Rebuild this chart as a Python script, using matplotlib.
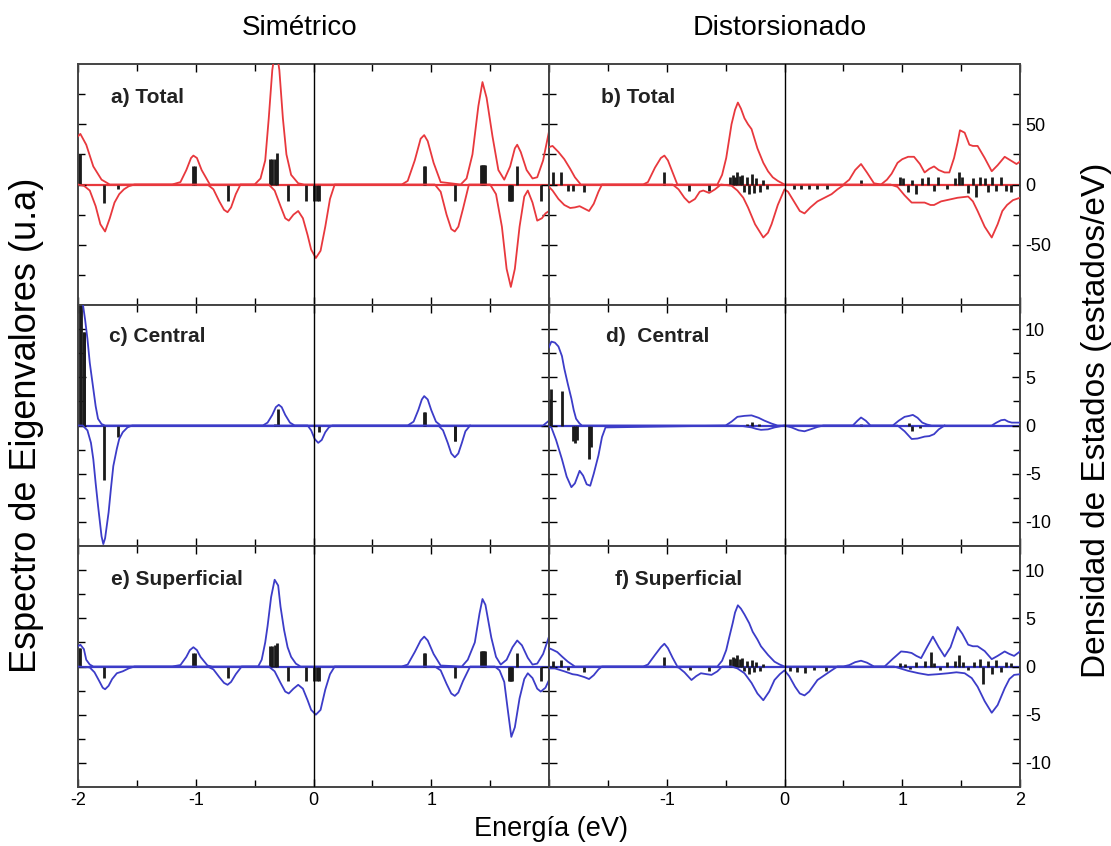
import numpy as np
import matplotlib
matplotlib.use("Agg")
import matplotlib.pyplot as plt
from matplotlib.ticker import MultipleLocator, FixedLocator

plt.rcParams['font.family'] = ['Liberation Sans', 'DejaVu Sans']
plt.rcParams['axes.unicode_minus'] = False

# ---------------- datos ----------------
# a) Total - simetrico
a_up_x = [-2.0, -1.98, -1.93, -1.87, -1.80, -1.73, -1.2, -1.13, -1.08, -1.04, -1.02, -0.99, -0.95, -0.88,
          -0.5, -0.45, -0.41, -0.38, -0.35, -0.32, -0.29, -0.26, -0.23, -0.19, -0.13, -0.08,
          0.75, 0.80, 0.86, 0.91, 0.94, 0.97, 1.02, 1.08, 1.25, 1.30, 1.35, 1.40, 1.435, 1.47, 1.52, 1.57,
          1.62, 1.67, 1.71, 1.73, 1.76, 1.81, 1.86, 1.90, 1.95, 2.0]
a_up_y = [40, 42, 33, 15, 4, 0, 0, 2, 12, 22, 24, 22, 12, 0,
          0, 5, 20, 55, 95, 115, 95, 55, 25, 8, 1, 0,
          0, 3, 20, 38, 41, 36, 18, 2, 0, 5, 25, 65, 85, 72, 40, 12,
          4, 15, 30, 33, 27, 12, 5, 6, 20, 44]
a_dn_x = [-2.0, -1.95, -1.90, -1.85, -1.81, -1.77, -1.73, -1.69, -1.65, -1.61, -1.57, -1.52,
          -0.9, -0.85, -0.80, -0.76, -0.73, -0.70, -0.66, -0.62,
          -0.38, -0.33, -0.28, -0.24, -0.21, -0.17, -0.13, -0.09, -0.05, -0.02, 0.02, 0.06, 0.10, 0.14, 0.18,
          1.03, 1.08, 1.13, 1.17, 1.20, 1.23, 1.27, 1.32,
          1.50, 1.55, 1.60, 1.64, 1.676, 1.71, 1.75, 1.79, 1.82, 1.86, 1.90, 1.94, 1.97, 2.0]
a_dn_y = [0, -1, -5, -18, -33, -39, -28, -15, -8, -4, -1.5, 0,
          0, -4, -14, -21, -23, -19, -8, 0,
          0, -5, -18, -28, -30, -25, -22, -28, -42, -54, -61, -55, -35, -12, 0,
          0, -6, -25, -37, -39, -35, -20, 0,
          0, -8, -35, -70, -85, -70, -35, -10, -5, -15, -30, -28, -24, -22]
a_st_x = [-1.99, -1.98, -1.02, -1.01, -0.37, -0.35, -0.33, -0.31, 0.94, 0.95, 1.42, 1.43, 1.44, 1.45, 1.46, 1.73,
          -1.78, -1.66, -0.73, -0.22, -0.06, 0.0, 0.03, 0.05, 1.2, 1.66, 1.67, 1.68, 1.69, 1.93]
a_st_h = [25, 25, 15, 15, 21, 21, 21, 26, 15, 15, 16, 16, 16, 16, 16, 15,
          -15, -4, -14, -14, -14, -14, -14, -14, -14, -14, -14, -14, -14, -14]

# b) Total - distorsionado
b_up_x = [-2.0, -1.97, -1.92, -1.87, -1.82, -1.78, -1.73, -1.20, -1.16, -1.10, -1.05, -1.02, -0.99, -0.95, -0.91,
          -0.57, -0.53, -0.495, -0.45, -0.42, -0.396, -0.37, -0.34, -0.31, -0.28, -0.23, -0.18, -0.14, -0.10, -0.057, 0.0,
          0.50, 0.55, 0.60, 0.65, 0.70, 0.76, 0.82, 0.87, 0.91, 0.96, 1.00, 1.05, 1.10, 1.15, 1.19, 1.23, 1.27, 1.31,
          1.36, 1.40, 1.44, 1.47, 1.49, 1.53, 1.57, 1.60, 1.64, 1.70, 1.76, 1.81, 1.87, 1.92, 1.97, 2.0]
b_up_y = [31, 32, 27, 21, 13, 6, 0, 0, 2, 14, 22, 24, 20, 10, 0,
          0, 8, 22, 50, 62, 68, 63, 55, 50, 46, 30, 18, 11, 6, 3, 0,
          0, 4, 12, 17, 10, 1, 0, 4, 9, 18, 21, 23, 23, 17, 10, 13, 15, 12,
          10, 10, 22, 35, 45, 43, 33, 32, 32, 22, 11, 16, 23, 20, 17, 19]
b_dn_x = [-2.0, -1.97, -1.92, -1.87, -1.82, -1.78, -1.74, -1.70, -1.66, -1.62, -1.58, -1.55,
          -0.95, -0.90, -0.85, -0.81, -0.76, -0.72, -0.69, -0.64, -0.59, -0.54,
          -0.45, -0.40, -0.35, -0.31, -0.25, -0.18, -0.14, -0.11, -0.057, 0.0, 0.03, 0.08, 0.13, 0.17, 0.22,
          0.28, 0.34, 0.40, 0.45, 0.51,
          0.90, 0.96, 1.02, 1.08, 1.14, 1.19, 1.24, 1.27, 1.33, 1.40, 1.47, 1.56, 1.60, 1.64, 1.70, 1.76,
          1.81, 1.85, 1.89, 1.94, 2.0]
b_dn_y = [-2, -5, -12, -17, -19.5, -19, -18, -20, -22, -16, -6, 0,
          0, -4, -11, -15, -12, -6, -5, -7, -4, 0,
          -1, -5, -11, -19, -33, -44, -40, -33, -17, -4, -6, -14, -22, -24, -19,
          -14, -11, -8, -4, 0,
          0, -2, -9, -15, -15, -15, -17, -17, -14, -12.5, -11, -10, -14, -22, -35, -44,
          -33, -22, -17, -13, -11]
b_st_x = [-1.97, -1.90, -1.84, -1.80, -1.70, -1.02, -0.81, -0.64, -0.46, -0.44, -0.42, -0.40, -0.38, -0.36,
          -0.34, -0.32, -0.30, -0.28, -0.26, -0.24, -0.21, -0.18, -0.15, 0.08, 0.14, 0.21, 0.28, 0.36, 0.65,
          0.98, 1.01, 1.05, 1.08, 1.12, 1.17, 1.22, 1.27, 1.30, 1.38, 1.45, 1.48, 1.51, 1.56, 1.60, 1.63, 1.66,
          1.70, 1.73, 1.76, 1.80, 1.84, 1.88, 1.92]
b_st_h = [10, 10, -5, -5, -6, 10, -5, -5, 6, 8, 6, 10, 7, 8,
          -6, 6, -8, 9, -7, 5, -6, 4, -4, -4, -4, -4, -4, -4, 4,
          6, 5, -6, 4, -8, 5, 6, -5, 6, -4, 5, 10, 6, -7, 5, -10, 6,
          5, -6, 6, -5, 6, -5, -6]

# c) Central - simetrico
c_up_x = [-2.0, -1.98, -1.96, -1.94, -1.92, -1.90, -1.87, -1.85, -1.83, -1.80, -1.77,
          -0.43, -0.39, -0.35, -0.32, -0.295, -0.27, -0.24, -0.20, -0.16,
          0.80, 0.85, 0.89, 0.92, 0.94, 0.97, 1.00, 1.04, 1.08, 1.95, 1.98, 2.0]
c_up_y = [13.5, 13.2, 12.7, 11, 9, 6.5, 3.8, 2, 0.7, 0.15, 0,
          0, 0.3, 1.1, 1.9, 2.15, 1.9, 1.1, 0.3, 0,
          0, 0.4, 1.6, 2.7, 3.05, 2.7, 1.6, 0.4, 0, 0, 0.3, 0.5]
c_dn_x = [-2.0, -1.96, -1.92, -1.89, -1.87, -1.85, -1.83, -1.80, -1.785, -1.77, -1.74, -1.72, -1.70, -1.67,
          -1.65, -1.62, -1.58, -1.54,
          -0.05, -0.02, 0.01, 0.04, 0.07, 0.10, 0.13, 0.16,
          1.06, 1.10, 1.14, 1.17, 1.20, 1.23, 1.26, 1.29, 1.33]
c_dn_y = [0, 0, -0.5, -1.8, -3.5, -6, -8.3, -11.5, -12.3, -11.7, -9, -6.5, -4.2, -2.4,
          -1.4, -0.7, -0.2, 0,
          0, -0.5, -1.4, -1.8, -1.5, -0.7, -0.2, 0,
          0, -0.5, -1.8, -2.9, -3.3, -2.9, -1.8, -0.6, 0]
c_st_x = [-1.98, -1.975, -1.95, -1.945, -0.33, -0.30, 0.94, 0.945, -1.78, -1.66, 0.05, 1.2, 1.205]
c_st_h = [12.8, 12.8, 9.7, 9.7, 0.2, 1.7, 1.4, 1.4, -5.7, -1.2, -0.7, -1.6, -1.6]

# d) Central - distorsionado
d_up_x = [-2.02, -1.98, -1.95, -1.92, -1.89, -1.87, -1.84, -1.81, -1.79, -1.77, -1.74, -1.72,
          -0.50, -0.45, -0.40, -0.34, -0.28, -0.22, -0.17, -0.11, -0.06,
          0.58, 0.62, 0.65, 0.69, 0.73, 0.92, 0.97, 1.02, 1.06, 1.09, 1.13, 1.17, 1.21, 1.25,
          1.76, 1.80, 1.84, 1.87, 1.90, 1.93, 1.97, 2.0]
d_up_y = [7.6, 8.7, 8.6, 8.2, 7.2, 5.9, 4.3, 2.8, 1.6, 0.7, 0.2, 0,
          0, 0.4, 0.9, 1.0, 1.05, 0.8, 0.5, 0.2, 0,
          0, 0.5, 0.83, 0.5, 0, 0, 0.5, 0.9, 1.0, 1.1, 0.8, 0.3, 0.1, 0,
          0, 0.3, 0.55, 0.6, 0.4, 0.3, 0.3, 0.3]
d_dn_x = [-2.02, -1.98, -1.94, -1.89, -1.85, -1.81, -1.78, -1.74, -1.71, -1.68, -1.65, -1.62, -1.58, -1.55, -1.52,
          -0.45, -0.36, -0.28, -0.24, -0.2, -0.14, -0.085, 0.0, 0.06, 0.12, 0.17, 0.22, 0.28, 0.33,
          0.96, 1.02, 1.08, 1.13, 1.19, 1.23, 1.27, 1.31, 1.36]
d_dn_y = [0, -0.2, -1.5, -3.5, -5.3, -6.4, -6.0, -4.7, -5.2, -6.1, -6.25, -5.0, -3.1, -1.2, -0.2,
          0, -0.05, -0.2, -0.35, -0.45, -0.4, -0.2, 0, -0.2, -0.5, -0.6, -0.4, -0.15, 0,
          0, -0.6, -1.4, -1.35, -1.15, -1.1, -0.9, -0.4, 0]
d_st_x = [-2.0, -1.98, -1.89, -1.80, -1.78, -1.76, -1.66, -1.64, -0.32, -0.28, -0.22, 0.65, 1.06, 1.08, 1.15]
d_st_h = [2.8, 3.8, 3.6, -1.6, -1.8, -1.5, -3.5, -2.2, 0.2, 0.4, 0.2, 0.2, 0.3, -0.6, -0.3]

# e) Superficial - simetrico
e_up_x = [-2.0, -1.98, -1.95, -1.93, -1.90, -1.87, -1.20, -1.13, -1.08, -1.05, -1.02, -0.99, -0.96, -0.90, -0.86,
          -0.47, -0.44, -0.41, -0.39, -0.36, -0.33, -0.30, -0.28, -0.25, -0.22, -0.19, -0.15, -0.11,
          0.75, 0.80, 0.86, 0.91, 0.94, 0.97, 1.02, 1.08, 1.26, 1.31, 1.37, 1.41, 1.435, 1.46, 1.51, 1.55,
          1.59, 1.64, 1.69, 1.73, 1.77, 1.82, 1.86, 1.90, 1.95, 2.0]
e_up_y = [2.1, 2.26, 1.8, 0.7, 0.2, 0, 0, 0.15, 1.0, 1.7, 2.0, 1.7, 1.0, 0.1, 0,
          0, 0.7, 2.5, 4.2, 7.2, 9.0, 8.4, 6.2, 3.8, 2.0, 1.0, 0.3, 0,
          0, 0.2, 1.5, 2.7, 3.1, 2.7, 1.3, 0.1, 0, 0.7, 2.5, 5.5, 7.0, 6.4, 3.0, 1.0,
          0.2, 0.7, 2.0, 2.7, 2.2, 0.9, 0.2, 0.3, 1.3, 3.1]
e_dn_x = [-2.0, -1.9, -1.86, -1.82, -1.79, -1.77, -1.74, -1.71, -1.67, -1.62, -1.57, -1.52,
          -0.90, -0.85, -0.80, -0.76, -0.73, -0.70, -0.66, -0.61,
          -0.38, -0.33, -0.28, -0.24, -0.21, -0.17, -0.13, -0.09, -0.05, -0.02, 0.02, 0.06, 0.10, 0.14, 0.18,
          1.03, 1.08, 1.13, 1.17, 1.20, 1.23, 1.27, 1.33,
          1.54, 1.58, 1.62, 1.65, 1.68, 1.71, 1.75, 1.79, 1.82, 1.86, 1.90, 1.93, 1.97, 2.0]
e_dn_y = [0, -0.1, -0.6, -1.5, -2.2, -2.36, -2.0, -1.3, -0.7, -0.5, -0.2, 0,
          0, -0.3, -1.1, -1.7, -1.9, -1.6, -0.8, 0,
          0, -0.5, -1.7, -2.6, -2.8, -2.3, -1.9, -2.3, -3.5, -4.5, -5.0, -4.5, -2.4, -0.8, 0,
          0, -0.4, -1.8, -2.8, -3.05, -2.7, -1.5, 0,
          0, -0.4, -1.6, -4.5, -7.3, -6.3, -3.3, -1.3, -0.7, -1.2, -2.3, -2.6, -2.2, -1.4]
e_st_x = [-1.99, -1.98, -1.02, -1.01, -0.37, -0.35, -0.33, -0.31, 0.94, 0.95, 1.42, 1.43, 1.44, 1.45, 1.46, 1.73,
          -1.78, -0.73, -0.22, -0.06, 0.0, 0.03, 0.05, 1.2, 1.66, 1.67, 1.68, 1.69, 1.93]
e_st_h = [1.9, 1.9, 1.4, 1.4, 2.1, 2.1, 2.2, 2.4, 1.4, 1.4, 1.6, 1.6, 1.6, 1.6, 1.6, 1.4,
          -1.2, -1.2, -1.5, -1.5, -1.5, -1.5, -1.5, -1.2, -1.5, -1.5, -1.5, -1.5, -1.5]

# f) Superficial - distorsionado
f_up_x = [-2.0, -1.97, -1.93, -1.89, -1.84, -1.78, -1.20, -1.16, -1.10, -1.05, -1.02, -0.99, -0.95, -0.91,
          -0.57, -0.53, -0.495, -0.47, -0.44, -0.42, -0.396, -0.37, -0.34, -0.30, -0.27, -0.23, -0.20, -0.14,
          -0.085, -0.04, 0.0, 0.50, 0.55, 0.60, 0.65, 0.70, 0.76, 0.85, 0.92, 0.99, 1.04, 1.08, 1.12, 1.16,
          1.21, 1.26, 1.31, 1.36, 1.41, 1.47, 1.51, 1.56, 1.60, 1.64, 1.70, 1.76, 1.81, 1.87, 1.91, 1.95, 2.0]
f_up_y = [1.9, 1.74, 1.5, 1.04, 0.5, 0, 0, 0.2, 1.2, 2.0, 2.36, 1.9, 0.9, 0,
          0, 0.6, 1.7, 3.0, 4.5, 5.6, 6.35, 6.0, 5.4, 4.5, 3.6, 2.8, 2.1, 1.2,
          0.5, 0.2, 0, 0, 0.15, 0.45, 0.6, 0.4, 0, 0, 0.8, 1.56, 1.5, 1.4, 1.1, 0.87,
          2.0, 3.1, 2.0, 1.04, 2.0, 4.1, 3.4, 2.26, 2.1, 2.1, 1.6, 0.76, 1.1, 1.56, 1.3, 1.1, 1.56]
f_dn_x = [-2.0, -1.95, -1.87, -1.80, -1.76, -1.70, -1.66, -1.62, -1.58, -1.55,
          -0.95, -0.90, -0.85, -0.79, -0.75, -0.71, -0.66, -0.62, -0.57, -0.53,
          -0.45, -0.40, -0.34, -0.28, -0.23, -0.18, -0.13, -0.085, -0.04, 0.0, 0.04, 0.09, 0.13, 0.17, 0.21,
          0.28, 0.34, 0.40, 0.45,
          0.93, 1.05, 1.14, 1.22, 1.30, 1.39, 1.46, 1.53, 1.59, 1.64, 1.70, 1.76, 1.81, 1.87, 1.91, 1.95, 2.0]
f_dn_y = [-0.2, -0.2, -0.5, -0.8, -0.87, -1.1, -1.3, -0.9, -0.3, 0,
          0, -0.1, -0.6, -1.4, -1.0, -0.7, -0.8, -0.87, -0.5, 0,
          0, -0.2, -0.7, -1.7, -2.8, -3.5, -2.6, -1.4, -0.8, -0.4, -1.0, -2.1, -2.8, -3.0, -2.6,
          -1.4, -0.9, -0.4, 0,
          0, -0.45, -0.7, -0.87, -0.8, -0.7, -0.6, -0.7, -1.2, -2.1, -3.6, -4.8, -4.0, -2.26, -1.3, -0.87, -0.8]
f_st_x = [-1.97, -1.90, -1.84, -1.70, -1.02, -0.80, -0.64, -0.46, -0.44, -0.42, -0.40, -0.38, -0.36, -0.34,
          -0.32, -0.30, -0.28, -0.26, -0.24, -0.21, -0.18, 0.05, 0.11, 0.17, 0.25, 0.35, 0.98, 1.02, 1.07,
          1.12, 1.19, 1.24, 1.27, 1.32, 1.38, 1.45, 1.48, 1.52, 1.56, 1.61, 1.66, 1.69, 1.73, 1.76, 1.80,
          1.84, 1.88, 1.92]
f_st_h = [0.6, 0.7, -0.4, -0.6, 1.0, -0.4, -0.5, 0.8, 1.0, 0.9, 1.2, 0.8, 0.9, -0.5,
          0.6, -0.8, 0.7, -0.6, 0.5, -0.5, 0.3, -0.5, -0.6, -0.7, -0.4, -0.5, 0.4, 0.3, -0.3,
          0.5, 0.6, 1.5, 0.4, -0.4, 0.5, 0.6, 1.2, 0.5, -0.4, 0.5, 0.8, -1.8, 0.6, -0.8, 0.7,
          -0.6, 0.5, 0.4]

panels = [
    ('a) Total', a_up_x, a_up_y, a_dn_x, a_dn_y, a_st_x, a_st_h),
    ('b) Total', b_up_x, b_up_y, b_dn_x, b_dn_y, b_st_x, b_st_h),
    ('c) Central', c_up_x, c_up_y, c_dn_x, c_dn_y, c_st_x, c_st_h),
    ('d)  Central', d_up_x, d_up_y, d_dn_x, d_dn_y, d_st_x, d_st_h),
    ('e) Superficial', e_up_x, e_up_y, e_dn_x, e_dn_y, e_st_x, e_st_h),
    ('f) Superficial', f_up_x, f_up_y, f_dn_x, f_dn_y, f_st_x, f_st_h),
]

# ---------------- figura ----------------
fig = plt.figure(figsize=(11.11, 8.46), dpi=100)

W, H = 1111, 846
col_left = [78, 549]
col_w = 471
row_top = [64, 305, 546]
row_h = 241
label_pos = [(0.07, 0.86), (0.11, 0.86), (0.065, 0.87), (0.12, 0.87), (0.07, 0.86), (0.14, 0.86)]

for i, (lab, ux, uy, dx, dy, sx, sh) in enumerate(panels):
    r, c = divmod(i, 2)
    ax = fig.add_axes([col_left[c] / W, 1 - (row_top[r] + row_h) / H, col_w / W, row_h / H])
    color = '#e8383d' if r == 0 else '#3c3cc8'

    ax.axhline(0, color=color, lw=1.6, zorder=1)
    ax.vlines(sx, 0, sh, color='#1a1a1a', lw=2.0, zorder=2)
    ax.plot(ux, uy, color=color, lw=1.3, zorder=3)
    ax.plot(dx, dy, color=color, lw=1.3, zorder=3)
    ax.axvline(0, color='black', lw=1.0, zorder=4)

    ax.set_xlim(-2, 2)
    if r == 0:
        ax.set_ylim(-100, 100)
        ax.yaxis.set_major_locator(FixedLocator([-50, 0, 50]))
        ax.yaxis.set_minor_locator(FixedLocator([-75, -25, 25, 75]))
    else:
        ax.set_ylim(-12.5, 12.5)
        ax.yaxis.set_major_locator(FixedLocator([-10, -5, 0, 5, 10]))
        ax.yaxis.set_minor_locator(FixedLocator([-7.5, -2.5, 2.5, 7.5]))
    ax.xaxis.set_major_locator(MultipleLocator(1))
    ax.xaxis.set_minor_locator(MultipleLocator(0.5))

    ax.tick_params(which='both', direction='in', top=True, right=True, labelsize=13)
    ax.tick_params(which='major', length=6, width=1)
    ax.tick_params(which='minor', length=5, width=1)

    if c == 0:
        ax.tick_params(labelleft=False, labelright=False)
    else:
        ax.tick_params(labelleft=False, labelright=True)

    if r == 2:
        ax.set_xticks([-2, -1, 0, 1, 2])
        if c == 0:
            ax.set_xticklabels(['-2', '-1', '0', '1', ''])
        else:
            ax.set_xticklabels(['', '-1', '0', '1', '2'])
    else:
        ax.tick_params(labelbottom=False)

    for s in ax.spines.values():
        s.set_color('#444444')
        s.set_linewidth(1.4)

    ax.text(label_pos[i][0], label_pos[i][1], lab, transform=ax.transAxes,
            fontsize=15, fontweight='bold', va='center', ha='left', color='#222222')

fig.text(300 / W, 1 - 28 / H, 'Simétrico', fontsize=20, ha='center', va='center')
fig.text(780 / W, 1 - 28 / H, 'Distorsionado', fontsize=20.5, ha='center', va='center')
fig.text(27 / W, 1 - 425 / H, 'Espectro de Eigenvalores (u.a)', fontsize=26, rotation=90, ha='center', va='center')
fig.text(1097 / W, 1 - 420 / H, 'Densidad de Estados (estados/eV)', fontsize=24, rotation=90, ha='center', va='center')
fig.text(551 / W, 1 - 829 / H, 'Energía (eV)', fontsize=19.5, ha='center', va='center')

fig.savefig('out.png', dpi=100)
